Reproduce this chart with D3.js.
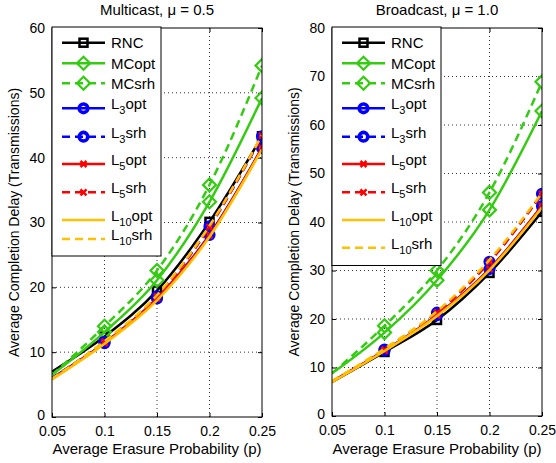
<!DOCTYPE html>
<html><head><meta charset="utf-8">
<script src="https://cdn.jsdelivr.net/npm/d3@7/dist/d3.min.js"></script>
<style>
body{margin:0;background:#fff;}
text{font-family:"Liberation Sans",Arial,Helvetica,sans-serif;fill:#000;}
</style></head>
<body><svg id="c" width="556" height="463"></svg>
<script>
const pValues = [0.05, 0.1, 0.15, 0.2, 0.25];
const xTicks = [0.05, 0.1, 0.15, 0.2, 0.25];
const xTickLabels = ["0.05", "0.1", "0.15", "0.2", "0.25"];
const mcYTicks = [0, 10, 20, 30, 40, 50, 60];
const bcYTicks = [0, 10, 20, 30, 40, 50, 60, 70, 80];
const seriesNames = ["RNC","MCopt","MCsrh","L3opt","L3srh","L5opt","L5srh","L10opt","L10srh"];

// Multicast, mu = 0.5
const mc_RNC    = [7.0, 12.4, 19.5, 30.1, 43.3];
const mc_MCopt  = [6.5, 13.1, 21.1, 33.2, 49.2];
const mc_MCsrh  = [6.5, 14.0, 22.6, 35.8, 54.2];
const mc_L3opt  = [6.0, 11.4, 18.3, 28.1, 41.5];
const mc_L3srh  = [6.0, 11.6, 18.6, 29.4, 43.3];
const mc_L5opt  = [5.9, 11.4, 18.3, 28.0, 41.5];
const mc_L5srh  = [5.9, 11.6, 18.6, 29.3, 43.4];
const mc_L10opt = [5.8, 11.3, 18.0, 27.8, 41.3];
const mc_L10srh = [5.9, 11.7, 18.8, 29.5, 43.5];

// Broadcast, mu = 1.0
const bc_RNC    = [7.0, 13.2, 19.8, 29.5, 42.1];
const bc_MCopt  = [8.8, 17.2, 28.0, 42.5, 62.9];
const bc_MCsrh  = [8.8, 18.6, 30.0, 46.1, 68.9];
const bc_L3opt  = [7.1, 13.5, 20.8, 30.3, 43.3];
const bc_L3srh  = [7.1, 13.7, 21.3, 31.8, 45.8];
const bc_L5opt  = [7.1, 13.5, 20.8, 30.3, 43.3];
const bc_L5srh  = [7.1, 13.7, 21.3, 31.8, 45.8];
const bc_L10opt = [7.0, 13.4, 20.6, 30.1, 43.0];
const bc_L10srh = [7.2, 13.9, 21.6, 32.2, 46.0];

const styles = {
  RNC:   {color:"#000000", dash:null, marker:"square", base:"RNC", sub:""},
  MCopt: {color:"#33cc11", dash:null, marker:"diamond", base:"MCopt", sub:""},
  MCsrh: {color:"#33cc11", dash:"8,5", marker:"diamond", base:"MCsrh", sub:""},
  L3opt: {color:"#0000ff", dash:null, marker:"circle", base:"L", sub:"3", rest:"opt"},
  L3srh: {color:"#0000ff", dash:"8,5", marker:"circle", base:"L", sub:"3", rest:"srh"},
  L5opt: {color:"#ff0000", dash:null, marker:"x", base:"L", sub:"5", rest:"opt"},
  L5srh: {color:"#ff0000", dash:"8,5", marker:"x", base:"L", sub:"5", rest:"srh"},
  L10opt:{color:"#ffc000", dash:null, marker:null, base:"L", sub:"10", rest:"opt"},
  L10srh:{color:"#ffc000", dash:"8,5", marker:null, base:"L", sub:"10", rest:"srh"}
};

const panels = [
  {title:"Multicast, \u03bc = 0.5", x0:52, x1:262, y0:28, y1:417, ymax:60, yTicks:mcYTicks,
   data:[mc_RNC,mc_MCopt,mc_MCsrh,mc_L3opt,mc_L3srh,mc_L5opt,mc_L5srh,mc_L10opt,mc_L10srh],
   legRows:[42.7,63.3,83.3,108.3,136.7,164,192.3,220,239], legBottom:256, ylabX:14},
  {title:"Broadcast, \u03bc = 1.0", x0:332, x1:542, y0:28, y1:416, ymax:80, yTicks:bcYTicks,
   data:[bc_RNC,bc_MCopt,bc_MCsrh,bc_L3opt,bc_L3srh,bc_L5opt,bc_L5srh,bc_L10opt,bc_L10srh],
   legRows:[42.7,63.3,83.3,108.3,136.7,164,192.3,220,247.7], legBottom:265.5, ylabX:294}
];

const svg = d3.select("#c");

function drawMarker(g, type, color, cx, cy){
  if(type==="square"){
    g.append("rect").attr("x",cx-4).attr("y",cy-4).attr("width",8).attr("height",8)
     .attr("fill","none").attr("stroke",color).attr("stroke-width",2.5);
  } else if(type==="diamond"){
    const r=6.5;
    g.append("path").attr("d",`M${cx},${cy-r}L${cx+r},${cy}L${cx},${cy+r}L${cx-r},${cy}Z`)
     .attr("fill","none").attr("stroke",color).attr("stroke-width",2.2);
  } else if(type==="circle"){
    g.append("circle").attr("cx",cx).attr("cy",cy).attr("r",4.3)
     .attr("fill","none").attr("stroke",color).attr("stroke-width",3.6);
  } else if(type==="x"){
    const r=3;
    g.append("path").attr("d",`M${cx-r},${cy-r}L${cx+r},${cy+r}M${cx-r},${cy+r}L${cx+r},${cy-r}`)
     .attr("stroke",color).attr("stroke-width",2.5).attr("fill","none");
  }
}

panels.forEach((P,pi)=>{
  const x = d3.scaleLinear().domain([0.05,0.25]).range([P.x0,P.x1]);
  const y = d3.scaleLinear().domain([0,P.ymax]).range([P.y1,P.y0]);
  const g = svg.append("g");

  // grid
  const grid = g.append("g").attr("stroke","#000").attr("stroke-width",0.8).attr("stroke-dasharray","1,3");
  xTicks.slice(1,-1).forEach(t=>grid.append("line").attr("x1",x(t)).attr("x2",x(t)).attr("y1",P.y0).attr("y2",P.y1));
  P.yTicks.slice(1,-1).forEach(t=>grid.append("line").attr("x1",P.x0).attr("x2",P.x1).attr("y1",y(t)).attr("y2",y(t)));

  // axes (ticks inside)
  const xa = d3.axisBottom(x).tickValues(xTicks).tickFormat((d,i)=>xTickLabels[i]).tickSizeInner(-4).tickSizeOuter(0).tickPadding(9);
  const ya = d3.axisLeft(y).tickValues(P.yTicks).tickSizeInner(-4).tickSizeOuter(0).tickPadding(7);
  const gx = g.append("g").attr("transform",`translate(0,${P.y1})`).call(xa);
  const gy = g.append("g").attr("transform",`translate(${P.x0},0)`).call(ya);
  const gxt = g.append("g").attr("transform",`translate(0,${P.y0})`).call(d3.axisTop(x).tickValues(xTicks).tickFormat("").tickSizeInner(-4).tickSizeOuter(0));
  const gyr = g.append("g").attr("transform",`translate(${P.x1},0)`).call(d3.axisRight(y).tickValues(P.yTicks).tickFormat("").tickSizeInner(-4).tickSizeOuter(0));
  [gx,gy,gxt,gyr].forEach(a=>{a.select(".domain").remove(); a.selectAll("line").attr("stroke","#000");});
  [gx,gy].forEach(a=>a.selectAll("text").attr("font-size",14).attr("font-family","Liberation Sans, Arial, sans-serif").attr("fill","#000"));
  gy.selectAll(".tick text").filter(d=>d===0).attr("dy","0.2em");

  // clip
  const cid = "clip"+pi;
  svg.append("clipPath").attr("id",cid).append("rect").attr("x",P.x0).attr("y",P.y0).attr("width",P.x1-P.x0).attr("height",P.y1-P.y0);
  const plot = g.append("g").attr("clip-path",`url(#${cid})`);

  const line = d3.line().x((d,i)=>x(pValues[i])).y(d=>y(d)).curve(d3.curveMonotoneX);
  seriesNames.forEach((name,si)=>{
    const s = styles[name], vals = P.data[si];
    plot.append("path").attr("d",line(vals)).attr("fill","none").attr("stroke",s.color)
      .attr("stroke-width",2.5).attr("stroke-dasharray",s.dash);
    if(s.marker){
      vals.forEach((v,i)=>{ if(i>0) drawMarker(plot,s.marker,s.color,x(pValues[i]),y(v)); });
    }
  });

  // box
  g.append("rect").attr("x",P.x0).attr("y",P.y0).attr("width",P.x1-P.x0).attr("height",P.y1-P.y0)
   .attr("fill","none").attr("stroke","#000").attr("stroke-width",1);

  // legend
  const lg = g.append("g");
  lg.append("rect").attr("x",P.x0).attr("y",P.y0-1).attr("width",109).attr("height",P.legBottom-P.y0+1)
    .attr("fill","#fff").attr("stroke","#000").attr("stroke-width",1);
  seriesNames.forEach((name,si)=>{
    const s = styles[name], ry = P.legRows[si];
    const lx0 = P.x0+10, lx1 = P.x0+53, mx = P.x0+31.5;
    lg.append("line").attr("x1",lx0).attr("x2",lx1).attr("y1",ry).attr("y2",ry)
      .attr("stroke",s.color).attr("stroke-width",2.5).attr("stroke-dasharray",s.dash);
    if(s.marker) drawMarker(lg,s.marker,s.color,mx,ry);
    const t = lg.append("text").attr("x",P.x0+59).attr("y",ry+(s.sub?1:5.5)).attr("font-size",15);
    if(s.sub){
      t.append("tspan").text(s.base);
      t.append("tspan").attr("font-size",11).attr("dy",5).text(s.sub);
      t.append("tspan").attr("dy",-5).text(s.rest);
    } else t.text(s.base);
  });

  // title and labels
  const cx = (P.x0+P.x1)/2;
  g.append("text").attr("x",cx).attr("y",15).attr("text-anchor","middle").attr("font-size",15).text(P.title);
  g.append("text").attr("x",cx).attr("y",454).attr("text-anchor","middle").attr("font-size",15).text("Average Erasure Probability (p)");
  g.append("text").attr("transform",`translate(${P.ylabX},${(P.y0+P.y1)/2}) rotate(-90)`).attr("text-anchor","middle")
   .attr("dy","0.35em").attr("font-size",14).text("Average Completion Delay (Transmissions)");
});
</script></body></html>
